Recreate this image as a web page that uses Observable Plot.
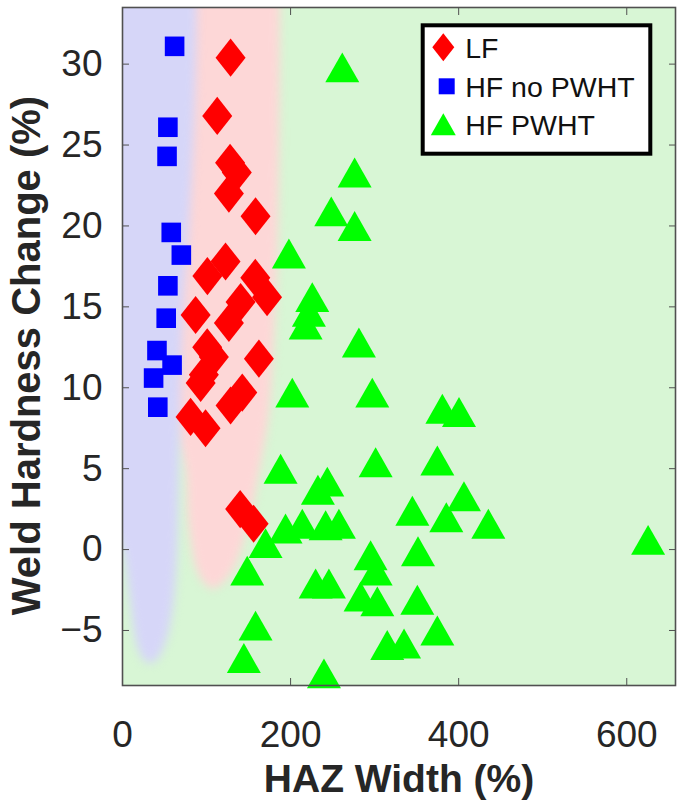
<!DOCTYPE html>
<html><head><meta charset="utf-8">
<script src="https://cdn.jsdelivr.net/npm/d3@7"></script>
<script src="https://cdn.jsdelivr.net/npm/@observablehq/plot@0.6"></script>
<style>
body{margin:0;background:#fff;}
#fig{position:relative;width:681px;height:802px;font-family:"Liberation Sans",Arial,Helvetica,sans-serif;}
</style></head><body><div id="fig"></div>
<script>
// ---- data ----
const lfX = [128.6, 112.7, 128, 136, 126.6, 158.3, 122.6, 101, 158, 172, 140.5, 126.6, 87, 100.8, 108.7, 96.8, 93, 162.3, 142.5, 128.6, 81, 98.8, 140, 156];
const lfY = [30.4, 26.8, 23.9, 23.3, 22.0, 20.6, 17.8, 16.9, 16.8, 15.6, 15.3, 14.0, 14.5, 12.5, 11.9, 10.8, 10.3, 11.8, 9.7, 8.9, 8.2, 7.5, 2.5, 1.6];

const hfX = [62, 54, 53, 58, 70, 54, 52, 41, 59, 37, 42];
const hfY = [31.1, 26.1, 24.3, 19.6, 18.2, 16.3, 14.3, 12.3, 11.4, 10.6, 8.8];

const pwhtX = [261.5, 276.2, 248.4, 276.2, 198, 225.8, 221.8, 217.9, 281.3, 202, 297.2, 380.6, 400.4, 188.1, 301.2, 374.6, 232.5, 243.7, 406.3, 344.9, 385.3, 435.3, 194, 213.9, 241.7, 257.5, 170.2, 625.4, 295.2, 351.6, 148.4, 229.8, 245.6, 301.2, 283.3, 303.2, 350.8, 158.3, 144.4, 239.7, 315, 335, 374.6];
const pwhtY = [29.8, 23.3, 20.9, 20.0, 18.3, 15.6, 14.7, 13.9, 12.8, 9.7, 9.7, 8.7, 8.5, 5.0, 5.4, 5.5, 3.7, 4.2, 3.3, 2.4, 2.0, 1.6, 1.3, 1.6, 1.5, 1.6, 0.4, 0.6, -0.35, -0.1, -1.3, -2.1, -2.1, -1.3, -2.9, -3.2, -3.1, -4.7, -6.7, -7.65, -5.9, -5.8, -5.0];

const xTicks = [0, 200, 400, 600];
const yTicks = [-5, 0, 5, 10, 15, 20, 25, 30];
const seriesNames = ["LF", "HF no PWHT", "HF PWHT"];

// shaded class regions (boundaries)
const blueRegY     = [-7.1, -6.8, -6, -5, -3, -1, 0, 2, 5, 10, 15, 20, 25, 30, 34, 40];
const blueRegLeft  = [33, 25, 18, 14, 9, 4, 0, -15, -40, -40, -40, -40, -40, -40, -40, -40];
const blueRegRight = [33, 42, 50, 56, 62, 65, 66, 67, 68, 70, 73, 80, 85, 88, 89, 89];

const redRegY     = [-2.5, -2, -1, 0, 2, 5, 8, 12, 18, 25, 34, 40];
const redRegLeft  = [108, 96, 87, 83, 78, 75, 60, 45, 45, 45, 45, 45];
const redRegRight = [108, 122, 135, 142, 153, 164, 174, 180, 185, 187, 188, 188];

// ---- tables ----
const lf = lfX.map((x, i) => ({x, y: lfY[i]}));
const hf = hfX.map((x, i) => ({x, y: hfY[i]}));
const pwht = pwhtX.map((x, i) => ({x, y: pwhtY[i]}));
const blueReg = blueRegY.map((y, i) => ({y, x1: blueRegLeft[i], x2: blueRegRight[i]}));
const redReg = redRegY.map((y, i) => ({y, x1: redRegLeft[i], x2: redRegRight[i]}));

// custom marker shapes (MATLAB-like)
const diamondSym = {draw(c, size) { const r = Math.sqrt(size / Math.PI); const w = r, h = r * 1.27;
  c.moveTo(0, -h); c.lineTo(w, 0); c.lineTo(0, h); c.lineTo(-w, 0); c.closePath(); }};
const squareSym = {draw(c, size) { const r = Math.sqrt(size / Math.PI);
  c.moveTo(-r, -r); c.lineTo(r, -r); c.lineTo(r, r); c.lineTo(-r, r); c.closePath(); }};
const triSym = {draw(c, size) { const r = Math.sqrt(size / Math.PI); const h = r * 0.88;
  c.moveTo(0, -h); c.lineTo(r, h); c.lineTo(-r, h); c.closePath(); }};

const FONT = '"Liberation Sans", Arial, Helvetica, sans-serif';
const bgGreen = "#d8f6d5", bgPink = "#fdd7d7", bgBlue = "#d6d6f8";
const axisCol = "#505050", textCol = "#262626";

const plot = Plot.plot({
  width: 681, height: 802,
  marginLeft: 122, marginRight: 6, marginTop: 7, marginBottom: 117,
  style: {fontFamily: FONT, fontSize: "37px", color: textCol, background: "white", overflow: "visible"},
  x: {domain: [0, 658]},
  y: {domain: [-8.4, 33.5]},
  marks: [
    Plot.frame({fill: bgGreen}),
    Plot.areaX(redReg, {y: "y", x1: "x1", x2: "x2", fill: bgPink, curve: "catmull-rom", clip: true, imageFilter: "blur(5px)"}),
    Plot.areaX(blueReg, {y: "y", x1: "x1", x2: "x2", fill: bgBlue, curve: "catmull-rom", clip: true, imageFilter: "blur(5px)"}),
    Plot.dot(pwht, {x: "x", y: "y", symbol: triSym, r: 17, fill: "#00ff00", stroke: "none"}),
    Plot.dot(lf, {x: "x", y: "y", symbol: diamondSym, r: 15, fill: "#ff0000", stroke: "none"}),
    Plot.dot(hf, {x: "x", y: "y", symbol: squareSym, r: 9.8, fill: "#0000ff", stroke: "none"}),
    Plot.axisX({ticks: xTicks, tickSize: -7, tickPadding: 42, label: null, stroke: axisCol, fill: textCol, fontSize: 37}),
    Plot.axisX({anchor: "top", ticks: xTicks, tickSize: -7, tickFormat: () => "", label: null, stroke: axisCol}),
    Plot.axisY({ticks: yTicks, tickSize: -7, tickPadding: 27, label: null, stroke: axisCol, fill: textCol, fontSize: 37}),
    Plot.axisY({anchor: "right", ticks: yTicks, tickSize: -7, tickFormat: () => "", label: null, stroke: axisCol}),
    Plot.frame({stroke: axisCol, strokeWidth: 1.6}),
    Plot.text(["HAZ Width (%)"], {text: d => d, frameAnchor: "bottom", lineAnchor: "middle", dy: 94, fontWeight: "bold", fontSize: 39, fill: textCol}),
    Plot.text(["Weld Hardness Change (%)"], {text: d => d, frameAnchor: "left", textAnchor: "middle", lineAnchor: "middle", rotate: -90, dx: -95, dy: 9, fontWeight: "bold", fontSize: 40, fill: textCol})
  ]
});

const fig = document.getElementById("fig");
fig.appendChild(plot);

// legend (inside the axes, top right)
const leg = d3.select(fig).append("svg")
  .attr("width", 681).attr("height", 802)
  .style("position", "absolute").style("left", "0px").style("top", "0px");
const lg = leg.append("g").attr("transform", "translate(422.7,25.3)");
lg.append("rect").attr("width", 227.6).attr("height", 128.4).attr("fill", "white").attr("stroke", "black").attr("stroke-width", 4);
const legSyms = [
  {p: "M0,-14L11,0L0,14L-11,0Z", fill: "#ff0000", dx: 20.6, dy: 22},
  {p: "M-8,-8L8,-8L8,8L-8,8Z", fill: "#0000ff", dx: 24, dy: 61},
  {p: "M0,-11L12.5,11L-12.5,11Z", fill: "#00ff00", dx: 20.6, dy: 99}
];
seriesNames.forEach((name, i) => {
  const s = legSyms[i];
  lg.append("path").attr("d", s.p).attr("fill", s.fill).attr("transform", `translate(${s.dx},${s.dy})`);
  lg.append("text").attr("x", 42.5).attr("y", s.dy + 10.5).attr("font-family", FONT).attr("font-size", 28.5).attr("fill", "#111").text(name);
});
</script>
</body></html>
